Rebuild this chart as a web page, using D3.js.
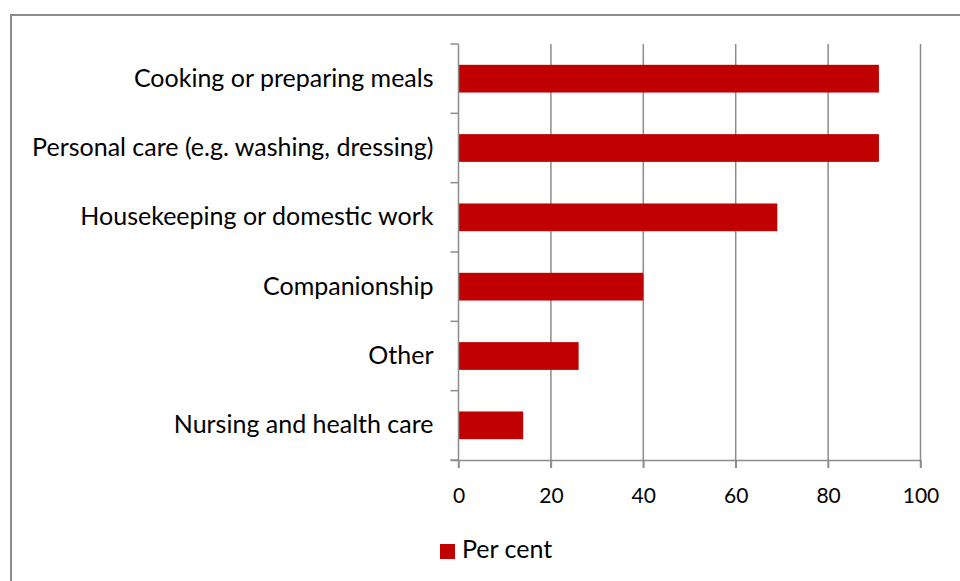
<!DOCTYPE html>
<html><head><meta charset="utf-8">
<script src="https://cdn.jsdelivr.net/npm/d3@7"></script>
<style>html,body{margin:0;padding:0;background:#fff;} svg{display:block;}</style>
</head><body>
<svg id="chart" width="960" height="581"></svg>
<script>
const categories = ["Cooking or preparing meals","Personal care (e.g. washing, dressing)","Housekeeping or domestic work","Companionship","Other","Nursing and health care"];
const values = [91, 91, 69, 40, 26, 14];
const xTicks = [0, 20, 40, 60, 80, 100];
const seriesName = "Per cent";

const svg = d3.select("#chart");
const font = "Lato, 'Open Sans', sans-serif";
const grid = "#8c8c8c";

svg.append("rect").attr("x", 11).attr("y", 15).attr("width", 1000).attr("height", 700)
  .attr("fill", "none").attr("stroke", grid).attr("stroke-width", 2);

const x = d3.scaleLinear().domain([0, 100]).range([458.5, 920.5]);
const y = d3.scaleBand().domain(categories).range([44, 460]).paddingInner(0.6).paddingOuter(0.3);
const yb = d3.scaleBand().domain(categories).range([44, 460]);

// gridlines
svg.append("g").selectAll("line").data(xTicks.slice(1)).join("line")
  .attr("x1", d => x(d)).attr("x2", d => x(d)).attr("y1", 44).attr("y2", 468)
  .attr("stroke", grid).attr("stroke-width", 1.5);

// bars
svg.append("g").selectAll("rect").data(categories).join("rect")
  .attr("x", x(0)).attr("y", d => y(d)).attr("height", y.bandwidth())
  .attr("width", (d, i) => x(values[i]) - x(0)).attr("fill", "#c00000");

// x axis
const xAxis = svg.append("g").attr("transform", "translate(0,460)")
  .call(d3.axisBottom(x).tickValues(xTicks).tickSize(8).tickPadding(20).tickSizeOuter(0));
xAxis.select(".domain").attr("stroke", grid).attr("stroke-width", 1.5).attr("d", `M${x(0)-8},0.5H${x(100)}`);
xAxis.selectAll(".tick line").attr("stroke", grid).attr("stroke-width", 1.5);
xAxis.selectAll(".tick text").attr("font-family", font).attr("font-size", 21).attr("fill", "#000");

// y axis
const yAxis = svg.append("g").attr("transform", `translate(${x(0)},0)`)
  .call(d3.axisLeft(yb).tickSize(0).tickPadding(25));
yAxis.select(".domain").attr("stroke", grid).attr("stroke-width", 1.5).attr("d", "M0,44V468");
yAxis.selectAll(".tick text").attr("font-family", font).attr("font-size", 25).attr("fill", "#000");
svg.append("g").selectAll("line").data(d3.range(categories.length + 1)).join("line")
  .attr("x1", x(0) - 8).attr("x2", x(0)).attr("y1", i => 44 + i * yb.step()).attr("y2", i => 44 + i * yb.step())
  .attr("stroke", grid).attr("stroke-width", 1.5);

// legend
const lg = svg.append("g");
lg.append("rect").attr("x", 440).attr("y", 544).attr("width", 15).attr("height", 15).attr("fill", "#c00000");
lg.append("text").attr("x", 462).attr("y", 558).attr("font-family", font).attr("font-size", 25).attr("fill", "#000").text(seriesName);
</script>
</body></html>
